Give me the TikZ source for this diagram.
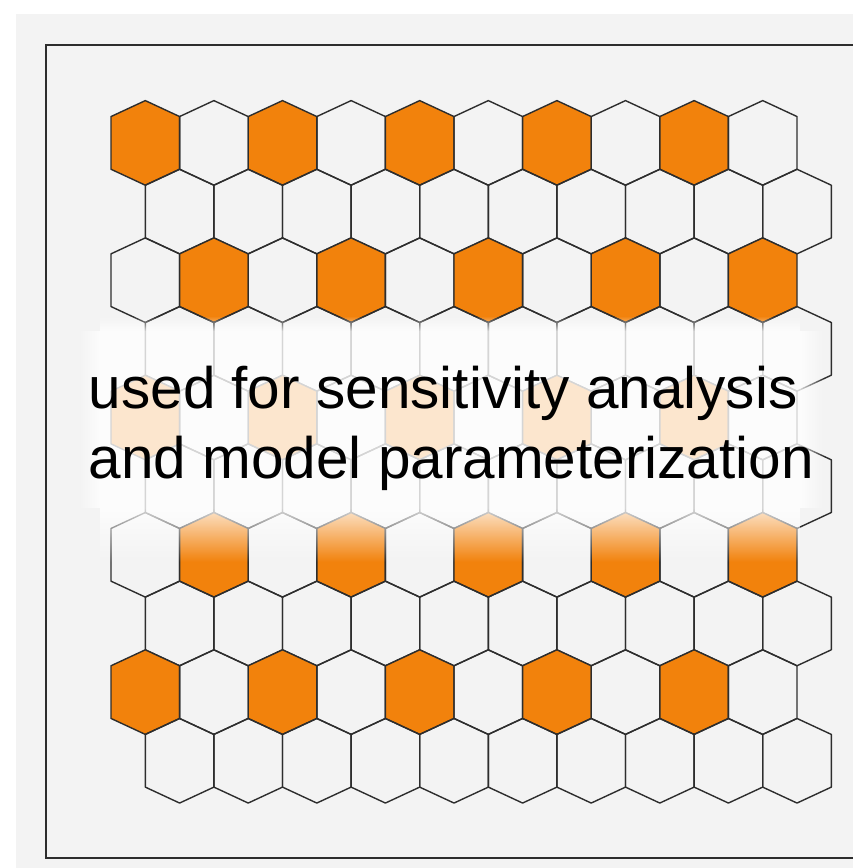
\documentclass[tikz,border=0pt]{standalone}
\usepackage{fontspec}
\setmainfont{Liberation Sans}
\usepackage{tikz}
\usetikzlibrary{fadings}

\definecolor{hexorange}{RGB}{242,130,12}
\definecolor{paper}{RGB}{243,243,243}
\definecolor{hexline}{RGB}{45,45,45}

\begin{document}
\begin{tikzpicture}[x=1pt,y=-1pt,
    cell/.style={draw=hexline,line width=1.4pt,line join=round},
    veil/.style={white,opacity=0.8},
    caption/.style={anchor=base west,inner sep=0pt,font=\fontsize{58.5}{70}\selectfont}]
  \useasboundingbox (0,0) rectangle (853,868);
  \clip (0,0) rectangle (853,868);
  \fill[paper] (16,14) rectangle (853,868);
  \draw[hexline,line width=1.5pt] (46,45) rectangle (870,858);
  % honeycomb, every other cell of the odd rows filled
  \foreach \r in {0,...,9}
    \foreach \k in {0,...,9}{
      \pgfmathsetmacro{\cx}{145.3+34.3*mod(\r,2)+68.6*\k}
      \pgfmathsetmacro{\cy}{142.9+68.65*\r}
      \pgfmathtruncatemacro{\hot}{mod(\r+1,2)*mod(\r/2+\k+1,2)}
      \ifnum\hot=1 \def\fc{hexorange}\else\def\fc{none}\fi
      \draw[cell,fill=\fc] (\cx,\cy) ++(0,-42.3) -- ++(34.3,15.95) -- ++(0,52.7)
        -- ++(-34.3,15.95) -- ++(-34.3,-15.95) -- ++(0,-52.7) -- cycle;
    }
  % faded band behind the text
  \fill[veil,path fading=north] (100,316) rectangle (800,331);
  \fill[veil] (100,331) rectangle (800,508);
  \fill[veil,path fading=south] (100,508) rectangle (800,562);
  \fill[veil,path fading=west] (78,331) rectangle (100,508);
  \fill[veil,path fading=east] (800,331) rectangle (824,508);
  \node[caption] (line1) at (88.5,408) {used for sensitivity analysis};
  \node[caption] (line2) at (88.5,478) {and model parameterization};
\end{tikzpicture}
\end{document}
